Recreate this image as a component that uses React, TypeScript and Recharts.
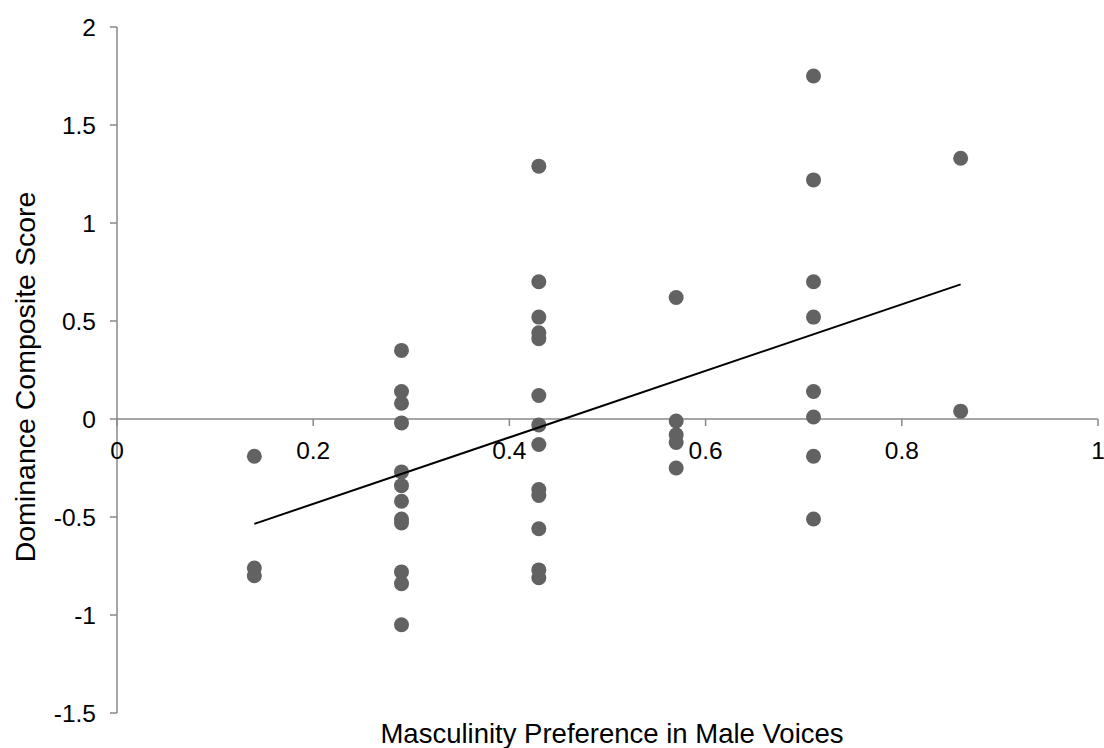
import React from "react";
import {
  ScatterChart,
  Scatter,
  XAxis,
  YAxis,
  ReferenceLine,
} from "recharts";

// masculinity preference levels (x) and the composite scores read at each one
const xLevels = [0.14, 0.29, 0.43, 0.57, 0.71, 0.86];

const scores014 = [-0.19, -0.76, -0.8];
const scores029 = [0.35, 0.14, 0.08, -0.02, -0.27, -0.34, -0.42, -0.51, -0.53, -0.78, -0.84, -1.05];
const scores043 = [1.29, 0.7, 0.52, 0.44, 0.41, 0.12, -0.03, -0.13, -0.36, -0.39, -0.56, -0.77, -0.81];
const scores057 = [0.62, -0.01, -0.08, -0.12, -0.25];
const scores071 = [1.75, 1.22, 0.7, 0.52, 0.14, 0.01, -0.19, -0.51];
const scores086 = [1.33, 0.04];

const scoreGroups = [scores014, scores029, scores043, scores057, scores071, scores086];

// linear trend line end points
const trendX = [0.14, 0.86];
const trendY = [-0.535, 0.687];

const xTicks = [0, 0.2, 0.4, 0.6, 0.8, 1];
const yTicks = [-1.5, -1, -0.5, 0, 0.5, 1, 1.5, 2];

const W = 1104;
const H = 748;
const TOP = 27;
const XAXIS_H = 35;
const YAXIS_W = 117;
const Y_MIN = -1.5;
const Y_MAX = 2;
const PLOT_H = H - TOP - XAXIS_H;
const ZERO_Y = TOP + (PLOT_H * (Y_MAX - 0)) / (Y_MAX - Y_MIN);

const FONT = "'Liberation Sans', Arial, sans-serif";
const AXIS = "#888888";
const DOT = "#626262";

const points = scoreGroups.flatMap((group, i) =>
  group.map((y) => ({ x: xLevels[i], y }))
);

const trend = trendX.map((x, i) => ({ x, y: trendY[i] }));

function XTick(props: any) {
  const { x, payload } = props;
  return (
    <g>
      <line x1={x} x2={x} y1={ZERO_Y} y2={ZERO_Y + 7} stroke={AXIS} strokeWidth={1.5} />
      <text
        x={x}
        y={ZERO_Y + 40}
        textAnchor="middle"
        fill="#000"
        fontSize={24.5}
        fontFamily={FONT}
      >
        {payload.value}
      </text>
    </g>
  );
}

export default function App() {
  return (
    <div style={{ position: "absolute", left: 0, top: 0, background: "#fff" }}>
      <ScatterChart
        width={W}
        height={H}
        margin={{ top: TOP, right: 6, bottom: 0, left: 0 }}
      >
        <XAxis
          type="number"
          dataKey="x"
          domain={[0, 1]}
          ticks={xTicks}
          height={XAXIS_H}
          axisLine={false}
          tickLine={false}
          tick={<XTick />}
          interval={0}
          label={{
            content: () => (
              <text
                x={612}
                y={743}
                textAnchor="middle"
                fill="#000"
                fontSize={27.5}
                fontFamily={FONT}
              >
                Masculinity Preference in Male Voices
              </text>
            ),
          }}
        />
        <YAxis
          type="number"
          dataKey="y"
          domain={[Y_MIN, Y_MAX]}
          ticks={yTicks}
          width={YAXIS_W}
          interval={0}
          tickSize={7}
          tickMargin={14}
          axisLine={{ stroke: AXIS, strokeWidth: 1.5 }}
          tickLine={{ stroke: AXIS, strokeWidth: 1.5 }}
          tick={{ fill: "#000", fontSize: 24.5, fontFamily: FONT }}
          label={{
            content: () => (
              <text
                x={25}
                y={377}
                transform="rotate(-90 25 377)"
                textAnchor="middle"
                dominantBaseline="central"
                fill="#000"
                fontSize={28.5}
                fontFamily={FONT}
              >
                Dominance Composite Score
              </text>
            ),
          }}
        />
        <ReferenceLine y={0} stroke={AXIS} strokeWidth={1.5} />
        <Scatter
          data={points}
          isAnimationActive={false}
          shape={(p: any) => <circle cx={p.cx} cy={p.cy} r={7.5} fill={DOT} />}
        />
        <Scatter
          data={trend}
          isAnimationActive={false}
          line={{ stroke: "#000", strokeWidth: 2 }}
          shape={() => <g />}
        />
      </ScatterChart>
    </div>
  );
}
